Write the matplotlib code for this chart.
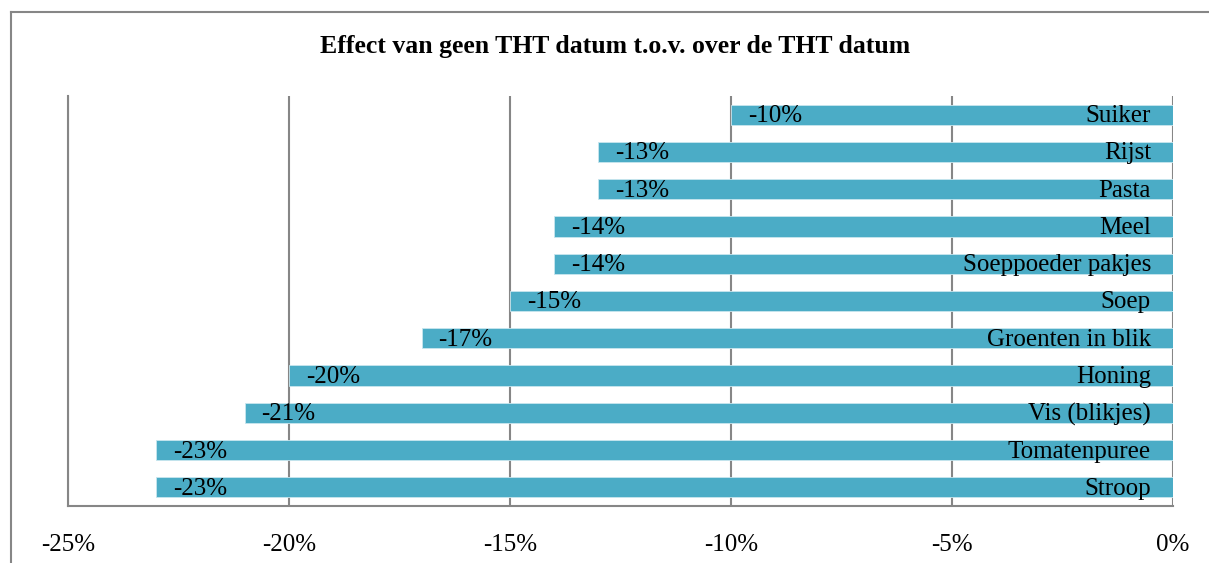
import matplotlib
matplotlib.use("Agg")
import matplotlib.pyplot as plt
from matplotlib.lines import Line2D
from matplotlib.ticker import FuncFormatter

categories = ["Suiker", "Rijst", "Pasta", "Meel", "Soeppoeder pakjes", "Soep",
              "Groenten in blik", "Honing", "Vis (blikjes)", "Tomatenpuree", "Stroop"]
values = [-10, -13, -13, -14, -14, -15, -17, -20, -21, -23, -23]
xticks = [-25, -20, -15, -10, -5, 0]
title = "Effect van geen THT datum t.o.v. over de THT datum"

plt.rcParams['font.family'] = ['Liberation Serif', 'DejaVu Serif']

fig = plt.figure(figsize=(12.09, 5.63), dpi=100)
ax = fig.add_axes([68/1209, 1-506/563, (1173-68)/1209, (506-96)/563])

n = len(categories)
ypos = list(range(n))
ax.barh(ypos, values, height=0.54, color="#4BACC6", edgecolor="#c9e6ee", linewidth=0.6, zorder=3)
ax.set_ylim(n - 0.5, -0.5)
ax.set_xlim(-25, 0)
ax.set_xticks(xticks)
ax.xaxis.set_major_formatter(FuncFormatter(lambda v, p: f"{int(round(v))}%"))
ax.set_yticks([])
ax.tick_params(axis='x', length=0, pad=20, labelsize=18)
ax.grid(axis='x', color="#868686", linewidth=1.5, zorder=1)
for s in ["top", "right"]:
    ax.spines[s].set_visible(False)
for s in ["left", "bottom"]:
    ax.spines[s].set_color("#868686")
    ax.spines[s].set_linewidth(1.5)

for y, v, c in zip(ypos, values, categories):
    ax.text(v + 0.38, y + 0.04, f"{v}%", va="center", ha="left", fontsize=18, color="black", zorder=4)
    ax.text(-0.5, y + 0.04, c, va="center", ha="right", fontsize=18, color="black", zorder=4)

fig.text(615/1209, 1-47/563, title, ha="center", va="center", fontsize=18.5, fontweight="bold")

fig.add_artist(Line2D([11/1209, 1], [1-12/563, 1-12/563], color="#868686", linewidth=1.5, transform=fig.transFigure))
fig.add_artist(Line2D([11/1209, 11/1209], [0, 1-12/563], color="#868686", linewidth=1.5, transform=fig.transFigure))

fig.savefig("out.png", dpi=100)
